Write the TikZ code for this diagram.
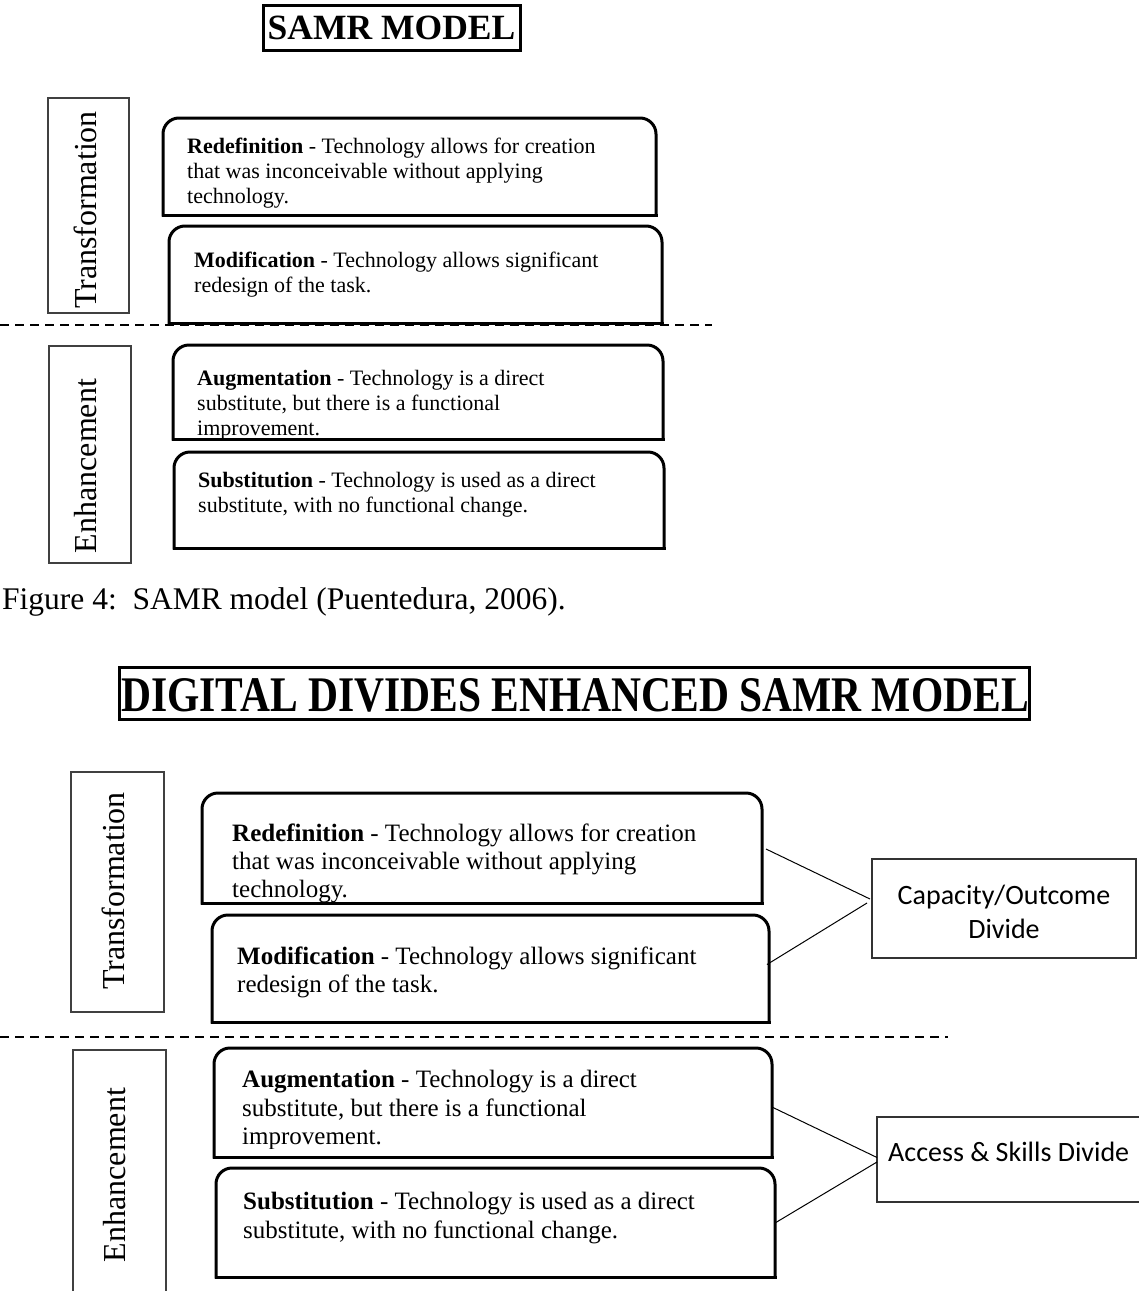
\documentclass[tikz,border=0pt]{standalone}
\usepackage{fontspec}
\setmainfont{Liberation Serif}
\newfontfamily\calfont{Carlito}
\usetikzlibrary{calc}
\tikzset{
  roundbox/.style={line width=3pt, rounded corners=16pt, line cap=rect},
  flatline/.style={line width=3pt, line cap=rect},
  plainbox/.style={inner sep=0pt, outer sep=0pt},
  sidebox/.style={draw=black!75, line width=1.1pt, inner sep=0pt, outer sep=0pt},
  divbox/.style={draw=black!80, line width=1.1pt, inner sep=0pt, outer sep=0pt},
  titlebox/.style={draw, line width=3pt, inner sep=0pt, outer sep=0pt},
  txtA/.style={anchor=base west, inner sep=0pt, font=\fontsize{22}{25}\selectfont},
  txtB/.style={anchor=base west, inner sep=0pt, font=\fontsize{25}{28}\selectfont},
  sidetxt/.style={rotate=90, inner sep=0pt, font=\fontsize{32}{38}\selectfont},
  divtxt/.style={inner sep=0pt, font=\calfont\fontsize{28}{34}\selectfont},
  link/.style={line width=1pt},
  divider/.style={line width=1.4pt, dash pattern=on 9pt off 6pt},
}
\newcommand\topround[1]{%
  \draw[roundbox] (#1.south west) -- (#1.north west) -- (#1.north east) -- (#1.south east);
  \draw[flatline] (#1.south west) -- (#1.south east);}
\begin{document}
\begin{tikzpicture}[x=1pt,y=-1pt]
\path[use as bounding box] (0,0) rectangle (1139,1291);
\clip (0,0) rectangle (1139,1291);

% ---------------- top figure ----------------
\node[titlebox, minimum width=257pt, minimum height=45pt,
      font=\bfseries\fontsize{35.5}{40}\selectfont] (title1) at (391.5,27.5) {SAMR MODEL};

\node[sidebox, minimum width=81pt, minimum height=215pt] (T1) at (88.5,205.5) {};
\node[sidetxt] (T1lab) at (85,210) {Transformation};
\node[sidebox, minimum width=82pt, minimum height=217pt] (E1) at (90,454.5) {};
\node[sidetxt] (E1lab) at (86,466) {Enhancement};

\node[plainbox, minimum width=493pt, minimum height=97pt] (R1) at (409.5,166.5) {};
\topround{R1}
\node[txtA] (R1a) at (187,153) {\textbf{Redefinition} - Technology allows for creation};
\node[txtA] (R1b) at (187,178) {that was inconceivable without applying};
\node[txtA] (R1c) at (187,203) {technology.};

\node[plainbox, minimum width=493pt, minimum height=97pt] (M1) at (415.5,274.5) {};
\topround{M1}
\node[txtA] (M1a) at (194,267) {\textbf{Modification} - Technology allows significant};
\node[txtA] (M1b) at (194,292) {redesign of the task.};

\coordinate (d1a) at (0,325);
\coordinate (d1b) at (712,325);
\draw[divider] (d1a) -- (d1b);

\node[plainbox, minimum width=490pt, minimum height=94pt] (A1) at (418,392) {};
\topround{A1}
\node[txtA] (A1a) at (197,385) {\textbf{Augmentation} - Technology is a direct};
\node[txtA] (A1b) at (197,410) {substitute, but there is a functional};
\node[txtA] (A1c) at (197,435) {improvement.};

\node[plainbox, minimum width=490pt, minimum height=96pt] (S1) at (419,500) {};
\topround{S1}
\node[txtA] (S1a) at (198,487) {\textbf{Substitution} - Technology is used as a direct};
\node[txtA] (S1b) at (198,512) {substitute, with no functional change.};

\node[anchor=base west, inner sep=0pt, font=\fontsize{31.5}{36}\selectfont] (caption) at (2,609)
  {Figure 4:\ \ SAMR model (Puentedura, 2006).};

% ---------------- bottom figure ----------------
\node[titlebox, minimum width=910pt, minimum height=52pt] (title2) at (574,693) {};
\node[inner sep=0pt, font=\bfseries\fontsize{41.5}{46}\selectfont] (title2txt) at (575,695)
  {\scalebox{1}[1.2]{DIGITAL DIVIDES ENHANCED SAMR MODEL}};

\node[sidebox, minimum width=93pt, minimum height=240pt] (T2) at (117.5,892) {};
\node[sidetxt] (T2lab) at (113,891) {Transformation};
\node[sidebox, minimum width=93pt, minimum height=280pt] (E2) at (119.5,1190) {};
\node[sidetxt] (E2lab) at (115,1175) {Enhancement};

\node[plainbox, minimum width=560pt, minimum height=110pt] (R2) at (482,848) {};
\topround{R2}
\node[txtB] (R2a) at (232,841) {\textbf{Redefinition} - Technology allows for creation};
\node[txtB] (R2b) at (232,869) {that was inconceivable without applying};
\node[txtB] (R2c) at (232,897) {technology.};

\node[plainbox, minimum width=557pt, minimum height=107pt] (M2) at (490.5,968.5) {};
\topround{M2}
\node[txtB] (M2a) at (237,964) {\textbf{Modification} - Technology allows significant};
\node[txtB] (M2b) at (237,992) {redesign of the task.};

\coordinate (d2a) at (0,1037);
\coordinate (d2b) at (948,1037);
\draw[divider] (d2a) -- (d2b);

\node[plainbox, minimum width=558pt, minimum height=109pt] (A2) at (493,1102.5) {};
\topround{A2}
\node[txtB] (A2a) at (242,1087) {\textbf{Augmentation} - Technology is a direct};
\node[txtB] (A2b) at (242,1116) {substitute, but there is a functional};
\begin{scope}
  \clip (220,1120) rectangle (760,1148);
  \node[txtB] (A2c) at (242,1144) {improvement.};
\end{scope}

\node[plainbox, minimum width=559pt, minimum height=109pt] (S2) at (495.5,1222.5) {};
\topround{S2}
\node[txtB] (S2a) at (243,1209) {\textbf{Substitution} - Technology is used as a direct};
\node[txtB] (S2b) at (243,1238) {substitute, with no functional change.};

\node[divbox, minimum width=264pt, minimum height=99pt] (Cap) at (1004,908.5) {};
\node[divtxt, anchor=base] (Capa) at (1004,904) {Capacity/Outcome};
\node[divtxt, anchor=base] (Capb) at (1004,938) {Divide};

\node[divbox, minimum width=273pt, minimum height=85pt] (Acc) at (1013.5,1159.5) {};
\node[divtxt, anchor=base west] (Acca) at (888,1161) {Access \& Skills Divide};

\draw[link] ($(R2.east)+(4,1)$) -- ($(Cap.west)+(-2,-9.5)$);
\draw[link] ($(M2.east)+(-2,-4)$) -- ($(Cap.west)+(-5,-5.5)$);
\draw[link] ($(A2.east)+(1,5)$) -- ($(Acc.west)+(0,-2)$);
\draw[link] ($(S2.east)+(0,0.5)$) -- ($(Acc.west)+(0,2.5)$);
\end{tikzpicture}
\end{document}
